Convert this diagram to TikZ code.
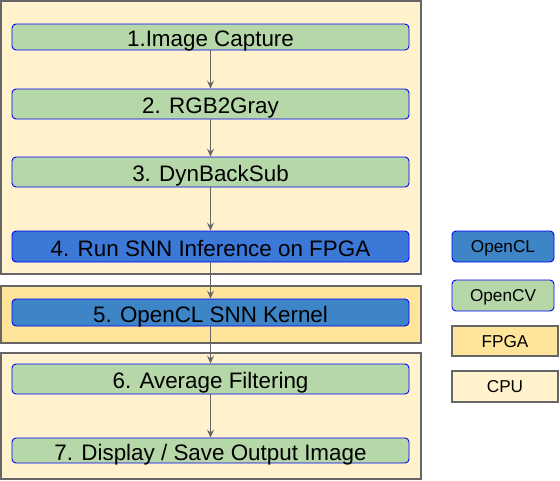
\documentclass[tikz,border=0pt]{standalone}
\usepackage{fontspec}
\setmainfont{Liberation Sans}
\usetikzlibrary{arrows.meta}
\definecolor{verdecv}{HTML}{B6D7A8}
\definecolor{azulcl}{HTML}{3D85C6}
\definecolor{azulfpga}{HTML}{3C78D8}
\definecolor{amarillofpga}{HTML}{FFE599}
\definecolor{cremacpu}{HTML}{FFF2CC}
\definecolor{grisborde}{HTML}{666666}
\tikzset{
  paso/.style={draw=blue, line width=0.9pt, rounded corners=4pt, fill=verdecv,
    minimum width=397pt, inner sep=0pt, text height=19.5pt, text depth=0pt,
    font=\fontsize{22.4}{26}\selectfont},
  leyenda/.style={draw=blue, line width=0.9pt, rounded corners=4pt,
    minimum width=102pt, minimum height=31pt, inner sep=0pt, text height=12.8pt, text depth=0pt,
    font=\fontsize{17.2}{20}\selectfont},
  caja/.style={draw=grisborde, line width=1.2pt, minimum width=106pt, minimum height=30pt,
    inner sep=0pt, text height=12.8pt, text depth=0pt, font=\fontsize{17.2}{20}\selectfont},
  panel/.style={draw=grisborde, line width=1.3pt},
  flecha/.style={draw=grisborde, line width=1pt, -{Stealth[length=8pt,width=7pt,inset=3pt]}}
}
\begin{document}
\begin{tikzpicture}[x=1pt, y=-1pt]
        \useasboundingbox (0,0) rectangle (560,480);
        % Paneles CPU / FPGA
        \filldraw[panel, fill=cremacpu] (1,1) rectangle (421,274);
        \filldraw[panel, fill=amarillofpga] (1,286) rectangle (421,343);
        \filldraw[panel, fill=cremacpu] (1,353) rectangle (421,479);
        % Pasos
        \node[paso, minimum height=26pt] (captura) at (210.5,37) {1.Image Capture};
        \node[paso, minimum height=30pt] (gris) at (210.5,104) {2. RGB2Gray};
        \node[paso, minimum height=30pt] (fondo) at (210.5,172) {3. DynBackSub};
        \node[paso, minimum height=31pt, fill=azulfpga] (inferencia) at (210.5,246.5) {4. Run SNN Inference on FPGA};
        \node[paso, minimum height=27pt, fill=azulcl] (kernel) at (210.5,312.5) {5. OpenCL SNN Kernel};
        \node[paso, minimum height=30pt] (filtrado) at (210.5,379) {6. Average Filtering};
        \node[paso, minimum height=25pt] (salida) at (210.5,450.5) {7. Display / Save Output Image};
        % Flechas
        \foreach \a/\b in {captura/gris, gris/fondo, fondo/inferencia, inferencia/kernel, kernel/filtrado, filtrado/salida}
            \draw[flecha] (\a) -- (\b);
        % Leyenda
        \node[leyenda, fill=azulcl] (opencl) at (503,246.5) {OpenCL};
        \node[leyenda, fill=verdecv] (opencv) at (503,295.5) {OpenCV};
        \node[caja, fill=amarillofpga] (fpga) at (505,341) {FPGA};
        \node[caja, fill=cremacpu, minimum height=31pt] (cpu) at (505,386.5) {CPU};
    \end{tikzpicture}
\end{document}
